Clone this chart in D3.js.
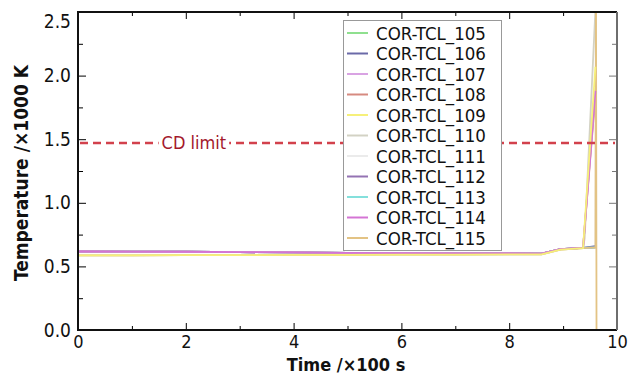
<!DOCTYPE html>
<html>
<head>
<meta charset="utf-8">
<script src="https://cdn.jsdelivr.net/npm/d3@7"></script>
<style>
  body { margin: 0; background: #fff; }
  svg { display: block; }
  text { font-family: "DejaVu Sans Condensed", "DejaVu Sans", sans-serif; }
</style>
</head>
<body>
<div id="chart"></div>
<script>
// Series names and colours (legend order)
const seriesNames = ["COR-TCL_105", "COR-TCL_106", "COR-TCL_107", "COR-TCL_108", "COR-TCL_109",
  "COR-TCL_110", "COR-TCL_111", "COR-TCL_112", "COR-TCL_113", "COR-TCL_114", "COR-TCL_115"];
const seriesColors = ["#8fe08f", "#6b6aa8", "#d9a3e3", "#d68a80", "#f6f07a",
  "#d3d2c4", "#ebebeb", "#9473b3", "#84e0dc", "#d474d4", "#e3c384"];

// Shared early history (time /x100 s)
const baseTimes = [0, 1, 2, 3, 4, 5, 6, 7, 8, 8.6, 8.95, 9.37];
const upperValues = [0.617, 0.616, 0.615, 0.612, 0.610, 0.607, 0.605, 0.603, 0.602, 0.600, 0.636, 0.645];
const lowerValues = [0.586, 0.587, 0.588, 0.589, 0.590, 0.591, 0.592, 0.593, 0.594, 0.595, 0.632, 0.643];
const seriesGroup = ["upper", "upper", "upper", "upper", "lower", "lower", "lower", "upper", "upper", "upper", "lower"];

// Late behaviour of each series
const tailTimes = [[9.6], [9.6], [9.6], [9.6], [9.6], [9.4, 9.62], [9.6, 9.61], [9.6], [9.6], [9.6], [9.6, 9.61, 9.62]];
const tailValues = [[0.65], [0.66], [1.90], [1.85], [2.07], [0.72, 2.7], [0.65, 2.7], [0.65], [0.65], [1.88], [0.65, 2.7, 0.0]];

// Order the curves are painted in (index into the arrays above)
const drawOrder = [5, 6, 0, 1, 7, 8, 3, 2, 10, 9, 4];

// CD limit
const cdLimit = 1.47;
const cdLabel = "CD limit";

// Axis ticks
const xMajor = [0, 2, 4, 6, 8, 10];
const xMinor = [1, 3, 5, 7, 9];
const yMajor = [0.0, 0.5, 1.0, 1.5, 2.0, 2.5];
const yMinor = [0.25, 0.75, 1.25, 1.75, 2.25];

const W = 628, H = 375;
const margin = { top: 12, right: 11, bottom: 45, left: 78 };

const svg = d3.select("#chart").append("svg")
    .attr("width", W)
    .attr("height", H);

const x = d3.scaleLinear().domain([0, 10]).range([margin.left, W - margin.right]);
const y = d3.scaleLinear().domain([0, 2.5]).range([H - margin.bottom, margin.top]);

svg.append("clipPath").attr("id", "plot-clip")
    .append("rect")
    .attr("x", x(0)).attr("y", y(2.5))
    .attr("width", x(10) - x(0)).attr("height", y(0) - y(2.5));

// Build series
const series = seriesNames.map((name, i) => {
    const vals = seriesGroup[i] === "upper" ? upperValues : lowerValues;
    const pts = baseTimes.map((t, j) => ({ t: t, v: vals[j] }));
    tailTimes[i].forEach((t, j) => pts.push({ t: t, v: tailValues[i][j] }));
    return { name: name, color: seriesColors[i], points: pts };
});

const line = d3.line().x(d => x(d.t)).y(d => y(d.v));

svg.append("g")
    .attr("clip-path", "url(#plot-clip)")
    .selectAll("path")
    .data(drawOrder.map(i => series[i]))
    .enter()
    .append("path")
    .attr("d", d => line(d.points))
    .attr("fill", "none")
    .attr("stroke", d => d.color)
    .attr("stroke-width", 1.8);

// CD limit dashed line with label
const cdG = svg.append("g");
cdG.append("line")
    .attr("x1", x(0) + 2).attr("x2", x(10) - 2)
    .attr("y1", y(cdLimit)).attr("y2", y(cdLimit))
    .attr("stroke", "#d2414c")
    .attr("stroke-width", 2.5)
    .attr("stroke-dasharray", "8,5");
const cdText = cdG.append("text")
    .attr("x", x(2.15))
    .attr("y", y(cdLimit))
    .attr("dy", "0.35em")
    .attr("text-anchor", "middle")
    .attr("fill", "#a3182c")
    .style("font-size", "18px")
    .text(cdLabel);
const bb = cdText.node().getBBox();
cdG.insert("rect", "text")
    .attr("x", bb.x - 3).attr("y", bb.y)
    .attr("width", bb.width + 6).attr("height", bb.height)
    .attr("fill", "#fff");

// Axes (ticks pointing inward)
const tickFont = size => g => g.selectAll("text").style("font-size", size).attr("fill", "#111");

svg.append("g")
    .attr("transform", `translate(0,${y(0)})`)
    .call(d3.axisBottom(x).tickValues(xMajor).tickSizeInner(-7).tickSizeOuter(0).tickPadding(5).tickFormat(d3.format("d")))
    .call(g => g.select(".domain").remove())
    .call(tickFont("18px"));
svg.append("g")
    .attr("transform", `translate(0,${y(0)})`)
    .call(d3.axisBottom(x).tickValues(xMinor).tickSizeInner(-4).tickSizeOuter(0).tickFormat(""))
    .call(g => g.select(".domain").remove());
svg.append("g")
    .attr("transform", `translate(0,${y(2.5)})`)
    .call(d3.axisTop(x).tickValues(xMajor).tickSizeInner(-7).tickSizeOuter(0).tickFormat(""))
    .call(g => g.select(".domain").remove());
svg.append("g")
    .attr("transform", `translate(0,${y(2.5)})`)
    .call(d3.axisTop(x).tickValues(xMinor).tickSizeInner(-4).tickSizeOuter(0).tickFormat(""))
    .call(g => g.select(".domain").remove());

svg.append("g")
    .attr("transform", `translate(${x(0)},0)`)
    .call(d3.axisLeft(y).tickValues(yMajor).tickSizeInner(-8).tickSizeOuter(0).tickPadding(7).tickFormat(d3.format(".1f")))
    .call(g => g.select(".domain").remove())
    .call(tickFont("19px"))
    .call(g => g.selectAll(".tick text").attr("y", d => d === 2.5 ? 9 : 0));
svg.append("g")
    .attr("transform", `translate(${x(0)},0)`)
    .call(d3.axisLeft(y).tickValues(yMinor).tickSizeInner(-5).tickSizeOuter(0).tickFormat(""))
    .call(g => g.select(".domain").remove());
svg.append("g")
    .attr("transform", `translate(${x(10)},0)`)
    .call(d3.axisRight(y).tickValues(yMajor).tickSizeInner(-8).tickSizeOuter(0).tickFormat(""))
    .call(g => g.select(".domain").remove())
    .call(g => g.selectAll("line").attr("stroke", "#777"));
svg.append("g")
    .attr("transform", `translate(${x(10)},0)`)
    .call(d3.axisRight(y).tickValues(yMinor).tickSizeInner(-5).tickSizeOuter(0).tickFormat(""))
    .call(g => g.select(".domain").remove())
    .call(g => g.selectAll("line").attr("stroke", "#777"));

// Frame
svg.append("path")
    .attr("d", `M${x(10)},${y(2.5)}H${x(0)}V${y(0)}H${x(10)}`)
    .attr("fill", "none").attr("stroke", "#111").attr("stroke-width", 2);
svg.append("line")
    .attr("x1", x(10)).attr("x2", x(10)).attr("y1", y(2.5)).attr("y2", y(0))
    .attr("stroke", "#6e6e6e").attr("stroke-width", 2);

// Axis titles
svg.append("text")
    .attr("x", 346).attr("y", 370.5)
    .attr("text-anchor", "middle")
    .style("font-size", "18px").style("font-weight", "bold")
    .attr("fill", "#111")
    .text("Time /×100 s");
svg.append("text")
    .attr("transform", "translate(28,173) rotate(-90)")
    .attr("text-anchor", "middle")
    .style("font-size", "19px").style("font-weight", "bold")
    .attr("fill", "#111")
    .text("Temperature /×1000 K");

// Legend
const legend = svg.append("g").attr("transform", "translate(343,20)");
legend.append("rect")
    .attr("x", 0.5).attr("y", 0.5)
    .attr("width", 158).attr("height", 230)
    .attr("fill", "#fff").attr("stroke", "#999");
const items = legend.selectAll(".item")
    .data(series)
    .enter()
    .append("g")
    .attr("class", "item")
    .attr("transform", (d, i) => `translate(0,${13 + i * 20.5})`);
items.append("line")
    .attr("x1", 4).attr("x2", 25)
    .attr("stroke", d => d.color).attr("stroke-width", 2);
items.append("text")
    .attr("x", 33).attr("dy", "0.36em")
    .style("font-size", "18.5px")
    .attr("fill", "#111")
    .text(d => d.name);
</script>
</body>
</html>
